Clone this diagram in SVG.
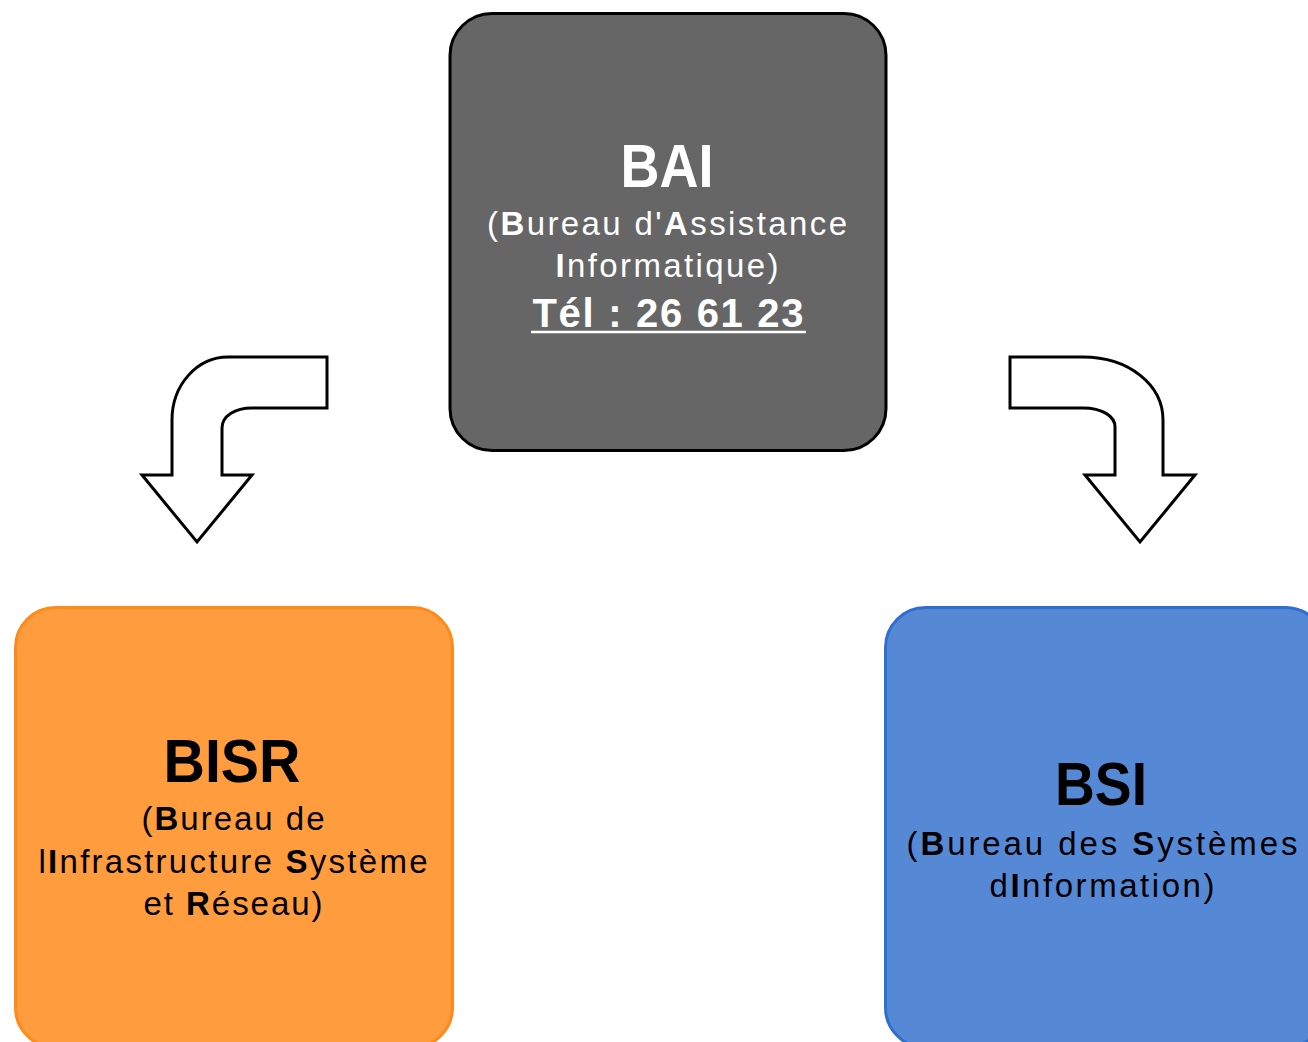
<svg xmlns="http://www.w3.org/2000/svg" width="1308" height="1042" viewBox="0 0 1308 1042">
<style>
text{font-family:"Liberation Sans",Arial,sans-serif;text-anchor:middle}
.t{font-weight:bold;font-size:62px}
.s{font-size:33px}
.b{font-weight:bold}
.w{fill:#ffffff}
.k{fill:#000000}
.arrow{fill:#ffffff;stroke:#000000;stroke-width:3;stroke-linejoin:miter}
</style>
<rect width="1308" height="1042" fill="#ffffff"/>
<g id="connectors">
<path class="arrow" d="M327,357 L228,357 C197,357 172,385 172,420 L172,475 L142,475 L197,542 L252,475 L222,475 L222,428 C222,416 235,408 252,408 L327,408 Z"/>
<path class="arrow" d="M1010,357 L1083,357 C1129,357 1163,385 1163,420 L1163,475 L1195,475 L1140,542 L1085,475 L1115,475 L1115,427 C1115,416 1102,408 1083,408 L1010,408 Z"/>
</g>
<g id="BAI">
<rect x="450" y="13.5" width="436" height="437" rx="42" ry="42" fill="#666666" stroke="#000000" stroke-width="3"/>
<text class="t w" x="667" y="187" textLength="93" lengthAdjust="spacingAndGlyphs">BAI</text>
<text class="s w" x="667" y="235" textLength="360" lengthAdjust="spacing">(<tspan class="b">B</tspan>ureau d'<tspan class="b">A</tspan>ssistance</text>
<text class="s w" x="667" y="277" textLength="223" lengthAdjust="spacing"><tspan class="b">I</tspan>nformatique)</text>
<text class="w b" x="668" y="327" font-size="40" textLength="271" lengthAdjust="spacing">Tél : 26 61 23</text>
<line x1="531" y1="332" x2="806" y2="332" stroke="#ffffff" stroke-width="2.5"/>
</g>
<g id="BISR">
<rect x="15.5" y="607.5" width="437" height="440" rx="40" ry="40" fill="#FF9C3E" stroke="#FF8A1A" stroke-width="3"/>
<text class="t k" x="232" y="782" textLength="137" lengthAdjust="spacingAndGlyphs">BISR</text>
<text class="s k" x="233" y="830" textLength="183" lengthAdjust="spacing">(<tspan class="b">B</tspan>ureau de</text>
<text class="s k" x="233" y="873" textLength="389" lengthAdjust="spacing">l<tspan class="b">I</tspan>nfrastructure <tspan class="b">S</tspan>ystème</text>
<text class="s k" x="233" y="915" textLength="179" lengthAdjust="spacing">et <tspan class="b">R</tspan>éseau)</text>
</g>
<g id="BSI">
<rect x="885.5" y="607.5" width="440" height="440" rx="40" ry="40" fill="#5589D6" stroke="#2F6FD0" stroke-width="3"/>
<text class="t k" x="1101" y="805" textLength="92" lengthAdjust="spacingAndGlyphs">BSI</text>
<text class="s k" x="1102" y="855" textLength="391" lengthAdjust="spacing">(<tspan class="b">B</tspan>ureau des  <tspan class="b">S</tspan>ystèmes</text>
<text class="s k" x="1102" y="897" textLength="225" lengthAdjust="spacing">d<tspan class="b">I</tspan>nformation)</text>
</g>
</svg>
